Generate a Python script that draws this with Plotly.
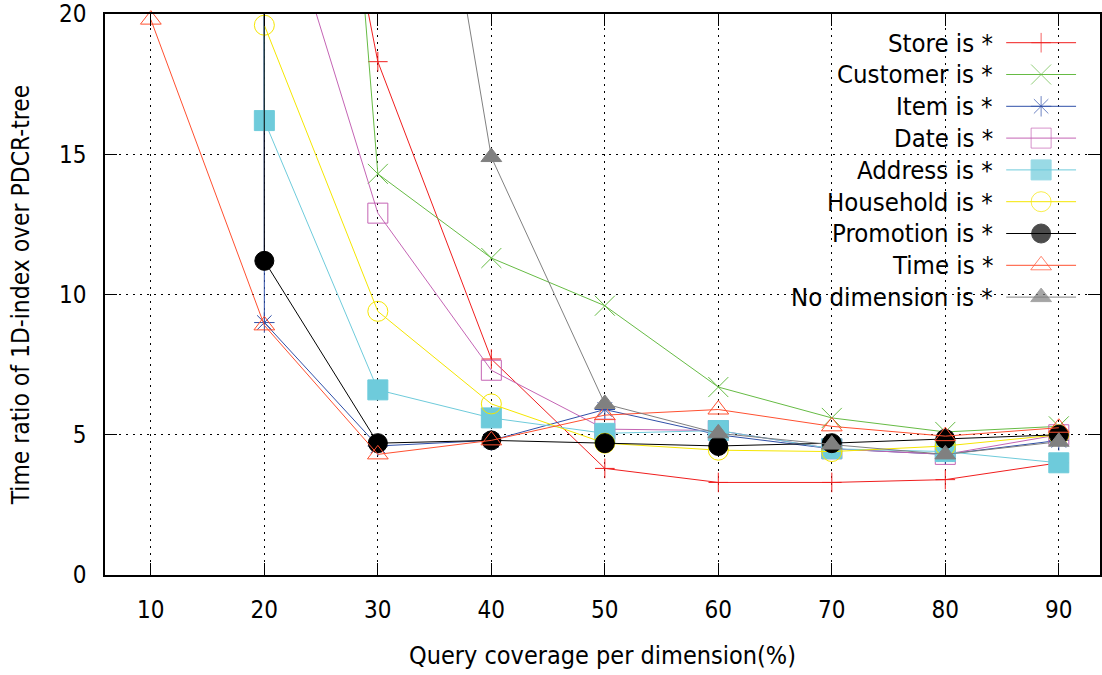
import plotly.graph_objects as go

# ---------------- data ----------------
coverage = [10, 20, 30, 40, 50, 60, 70, 80, 90]

series_names = ["Store is *", "Customer is *", "Item is *", "Date is *", "Address is *",
                "Household is *", "Promotion is *", "Time is *", "No dimension is *"]

store = [None, 39.0, 18.3, 7.7, 3.8, 3.3, 3.3, 3.4, 4.0]
customer = [None, 65.0, 14.3, 11.3, 9.6, 6.7, 5.6, 5.1, 5.3]
item = [5000.0, 9.0, 4.6, 4.8, 5.9, 5.0, 4.5, 4.3, 4.8]
date = [None, 26.0, 12.9, 7.3, 5.2, 5.15, 4.5, 4.3, 5.0]
address = [4000.0, 16.2, 6.6, 5.6, 5.05, 5.15, 4.5, 4.4, 4.0]
household = [None, 19.6, 9.4, 6.1, 4.7, 4.45, 4.4, 4.6, 5.0]
promotion = [6000.0, 11.2, 4.7, 4.8, 4.7, 4.6, 4.7, 4.85, 5.0]
time_dim = [19.8, 8.9, 4.3, 4.8, 5.7, 5.9, 5.3, 4.95, 5.25]
no_dim = [None, None, 39.0, 14.9, 6.1, 5.05, 4.65, 4.3, 4.75]

y_ticks = [0, 5, 10, 15, 20]

# ---------------- styles ----------------
colors = ["#f01e1e", "#66bb44", "#2f4fa8", "#c464b4", "#6ecbdb",
          "#f5e600", "#000000", "#ff5030", "#808080"]
symbols = ["cross-thin-open", "x-thin-open", "asterisk-open", "square-open", "square",
           "circle-open", "circle", "triangle-up-open", "triangle-up"]
sizes = [14, 20, 17, 20, 20, 20, 19, 18, 18]
all_series = [store, customer, item, date, address, household, promotion, time_dim, no_dim]

FONT = "DejaVu Sans Condensed, Noto Sans, sans-serif"
FS = 24

fig = go.Figure()

for name, ys, col, sym, sz in zip(series_names, all_series, colors, symbols, sizes):
    xs = [x for x, y in zip(coverage, ys) if y is not None]
    yv = [y for y in ys if y is not None]
    fig.add_trace(go.Scatter(
        x=xs, y=yv, mode="lines+markers", name=name, showlegend=False,
        line=dict(color=col, width=1),
        marker=dict(symbol=sym, size=sz, color=col, opacity=1,
                    line=dict(color=col, width=1)),
        cliponaxis=False,
    ))

# ---------------- custom gnuplot-style key ----------------
W, H = 1102, 675
L, R, T, B = 105, 0, 14, 100
pw, ph = W - L - R, H - T - B

def px_to_paper_x(px):
    return (px - L) / pw

def py_to_paper_y(py):
    return (H - B - py) / ph

key_text_right = 997
key_line_x0, key_line_x1 = 1008, 1078
key_top, key_step = 42.7, 31.8

for i, (name, col, sym, sz) in enumerate(zip(series_names, colors, symbols, sizes)):
    py = key_top + i * key_step
    yp = py_to_paper_y(py)
    fig.add_annotation(
        x=px_to_paper_x(key_text_right), y=yp, xref="paper", yref="paper",
        text=name, showarrow=False, xanchor="right", yanchor="middle",
        font=dict(family=FONT, size=25.5, color="#000000"),
    )
    xa, xb = px_to_paper_x(key_line_x0), px_to_paper_x(key_line_x1)
    fig.add_trace(go.Scatter(
        x=[xa, (xa + xb) / 2, xb], y=[yp, yp, yp], xaxis="x2", yaxis="y2",
        mode="lines+markers", showlegend=False, hoverinfo="skip",
        line=dict(color=col, width=1),
        marker=dict(symbol=sym, size=[0, sz, 0], color=col,
                    line=dict(color=col, width=1)),
        cliponaxis=False,
    ))

grid_dash = "2px,5px"

fig.update_layout(
    width=W, height=H,
    margin=dict(l=L, r=R, t=T, b=B, pad=0),
    paper_bgcolor="white", plot_bgcolor="white",
    font=dict(family=FONT, size=FS, color="#000000"),
    showlegend=False,
    xaxis=dict(
        range=[5.96, 93.63],
        tickmode="array", tickvals=coverage, ticktext=[str(c) for c in coverage],
        ticks="inside", ticklen=12, tickcolor="#000000", tickwidth=1,
        showline=True, linecolor="#000000", linewidth=1.5, mirror="ticks",
        showgrid=True, gridcolor="#000000", gridwidth=1, griddash=grid_dash,
        zeroline=False,
        ticklabelstandoff=12,
        title=dict(text="Query coverage per dimension(%)", standoff=24,
                   font=dict(family=FONT, size=25)),
    ),
    yaxis=dict(
        range=[0, 20],
        tickmode="array", tickvals=y_ticks, ticktext=[str(t) for t in y_ticks],
        ticks="inside", ticklen=12, tickcolor="#000000", tickwidth=1,
        showline=True, linecolor="#000000", linewidth=1.5, mirror="ticks",
        showgrid=True, gridcolor="#000000", gridwidth=1, griddash=grid_dash,
        zeroline=False,
        ticklabelstandoff=12,
        title=dict(text="Time ratio of 1D-index over PDCR-tree", standoff=22,
                   font=dict(family=FONT, size=24.4)),
    ),
    xaxis2=dict(domain=[0, 1], range=[0, 1], overlaying="x", visible=False, fixedrange=True),
    yaxis2=dict(domain=[0, 1], range=[0, 1], overlaying="y", visible=False, fixedrange=True),
)

fig.write_html("out.html")
